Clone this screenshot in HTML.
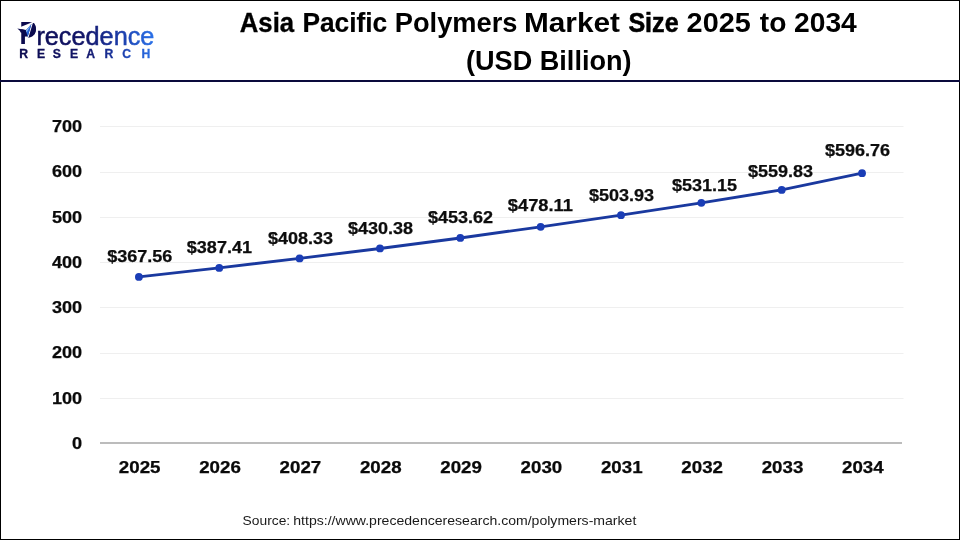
<!DOCTYPE html>
<html lang="en"><head><meta charset="utf-8"><title>Asia Pacific Polymers Market Size 2025 to 2034</title>
<style>
html,body{margin:0;padding:0;background:#fff;}
body{width:960px;height:540px;overflow:hidden;position:relative;font-family:"Liberation Sans",sans-serif;}
svg{position:absolute;left:0;top:0;display:block;will-change:transform}
.ax{font:bold 16.3px "Liberation Sans",sans-serif;fill:#0a0a0a;stroke:#0a0a0a;stroke-width:0.25px}
.dl{font:bold 16.3px "Liberation Sans",sans-serif;fill:#0d0d0d;stroke:#0d0d0d;stroke-width:0.25px}
.ttl{font:bold 27px "Liberation Sans",sans-serif;fill:#000}
.src{font:12.9px "Liberation Sans",sans-serif;fill:#1a1a1a}
.lg1{font:25.6px "Liberation Sans",sans-serif}
.lg2{font:bold 12.2px "Liberation Sans",sans-serif}
</style></head><body>
<svg width="960" height="540" viewBox="0 0 960 540">
<defs>
<linearGradient id="g1" gradientUnits="userSpaceOnUse" x1="18" y1="0" x2="154" y2="0">
<stop offset="0" stop-color="#0b0a4e"/><stop offset="0.5" stop-color="#13166a"/><stop offset="0.75" stop-color="#1b3ba8"/><stop offset="1" stop-color="#2a72ea"/>
</linearGradient>
</defs>
<rect x="0" y="0" width="960" height="540" fill="#ffffff"/>
<rect x="0.5" y="0.5" width="959" height="539" fill="none" stroke="#000" stroke-width="1"/>
<rect x="0" y="80" width="960" height="2" fill="#0a0a3c"/>
<!-- logo -->
<g id="logo">
<text x="19.5" y="44.1" style="font:bold 30.5px 'Liberation Sans',sans-serif" fill="#0b0a4e" textLength="17.2" lengthAdjust="spacingAndGlyphs">P</text>
<rect x="23.5" y="24.5" width="9.3" height="11.6" fill="#0b0a4e"/>
<path d="M32.6,22.6 C35,23.6 36.1,26.6 36,29.8 C35.8,34.2 32.2,37.5 28,37.7 L27,32 Z" fill="#0b0a4e"/>
<polygon points="16.5,28.0 20.5,27.0 31.6,22.4 33.4,21.3 34.0,22.0 32.8,23.3 28.4,37.7 27.6,37.0 31.4,24.0 25.9,30.2" fill="#ffffff"/>
<polygon points="17.3,28.4 26.2,29.9 25.2,32.5 20.9,32.8 19.6,30.4" fill="#0b0a4e"/>
<polygon points="31.5,23.9 25.9,30.2 27.7,37.0" fill="#2563d8"/>
<polygon points="31.5,23.9 25.9,30.2 26.5,32.4" fill="#8bbcf5"/>
<text x="36.4" y="44.5" class="lg1" fill="url(#g1)" stroke="url(#g1)" stroke-width="0.5" textLength="118" lengthAdjust="spacingAndGlyphs">recedence</text>
<text x="19.3 36.9 52.8 70.0 86.2 104.4 122.3 141.6" y="57.9" class="lg2" fill="url(#g1)" stroke="url(#g1)" stroke-width="0.3">RESEARCH</text>
</g>
<!-- title -->
<text x="239.8" y="31.5" class="ttl" textLength="54.3" lengthAdjust="spacingAndGlyphs" stroke="#000" stroke-width="0.35">Asia</text>
<text x="302.4" y="31.5" class="ttl" textLength="84.8" lengthAdjust="spacingAndGlyphs" stroke="#000" stroke-width="0.2">Pacific</text>
<text x="394.8" y="31.5" class="ttl" textLength="122.6" lengthAdjust="spacingAndGlyphs">Polymers</text>
<text x="524.0" y="31.5" class="ttl" textLength="96.0" lengthAdjust="spacingAndGlyphs">Market</text>
<text x="628.4" y="31.5" class="ttl" textLength="50.2" lengthAdjust="spacingAndGlyphs" stroke="#000" stroke-width="0.55">Size</text>
<text x="686.6" y="31.5" class="ttl" textLength="64.2" lengthAdjust="spacingAndGlyphs">2025</text>
<text x="759.8" y="31.5" class="ttl" textLength="26.6" lengthAdjust="spacingAndGlyphs">to</text>
<text x="794.0" y="31.5" class="ttl" textLength="62.8" lengthAdjust="spacingAndGlyphs">2034</text>
<text x="466.0" y="69.75" class="ttl" textLength="165.6" lengthAdjust="spacingAndGlyphs">(USD Billion)</text>
<line x1="100.0" x2="903.5" y1="398.50" y2="398.50" stroke="#efefef" stroke-width="1"/>
<line x1="100.0" x2="903.5" y1="353.50" y2="353.50" stroke="#efefef" stroke-width="1"/>
<line x1="100.0" x2="903.5" y1="307.50" y2="307.50" stroke="#efefef" stroke-width="1"/>
<line x1="100.0" x2="903.5" y1="262.50" y2="262.50" stroke="#efefef" stroke-width="1"/>
<line x1="100.0" x2="903.5" y1="217.50" y2="217.50" stroke="#efefef" stroke-width="1"/>
<line x1="100.0" x2="903.5" y1="172.50" y2="172.50" stroke="#efefef" stroke-width="1"/>
<line x1="100.0" x2="903.5" y1="126.50" y2="126.50" stroke="#efefef" stroke-width="1"/>
<line x1="100.0" x2="902.0" y1="443" y2="443" stroke="#bcbcbc" stroke-width="2"/>
<text x="82.1" y="448.90" text-anchor="end" class="ax" textLength="10.1" lengthAdjust="spacingAndGlyphs">0</text>
<text x="82.1" y="403.65" text-anchor="end" class="ax" textLength="30.2" lengthAdjust="spacingAndGlyphs">100</text>
<text x="82.1" y="358.40" text-anchor="end" class="ax" textLength="30.2" lengthAdjust="spacingAndGlyphs">200</text>
<text x="82.1" y="313.15" text-anchor="end" class="ax" textLength="30.2" lengthAdjust="spacingAndGlyphs">300</text>
<text x="82.1" y="267.90" text-anchor="end" class="ax" textLength="30.2" lengthAdjust="spacingAndGlyphs">400</text>
<text x="82.1" y="222.65" text-anchor="end" class="ax" textLength="30.2" lengthAdjust="spacingAndGlyphs">500</text>
<text x="82.1" y="177.40" text-anchor="end" class="ax" textLength="30.2" lengthAdjust="spacingAndGlyphs">600</text>
<text x="82.1" y="132.15" text-anchor="end" class="ax" textLength="30.2" lengthAdjust="spacingAndGlyphs">700</text>
<text x="139.70" y="472.8" text-anchor="middle" class="ax" textLength="41.7" lengthAdjust="spacingAndGlyphs">2025</text>
<text x="220.05" y="472.8" text-anchor="middle" class="ax" textLength="41.7" lengthAdjust="spacingAndGlyphs">2026</text>
<text x="300.40" y="472.8" text-anchor="middle" class="ax" textLength="41.7" lengthAdjust="spacingAndGlyphs">2027</text>
<text x="380.75" y="472.8" text-anchor="middle" class="ax" textLength="41.7" lengthAdjust="spacingAndGlyphs">2028</text>
<text x="461.10" y="472.8" text-anchor="middle" class="ax" textLength="41.7" lengthAdjust="spacingAndGlyphs">2029</text>
<text x="541.45" y="472.8" text-anchor="middle" class="ax" textLength="41.7" lengthAdjust="spacingAndGlyphs">2030</text>
<text x="621.80" y="472.8" text-anchor="middle" class="ax" textLength="41.7" lengthAdjust="spacingAndGlyphs">2031</text>
<text x="702.15" y="472.8" text-anchor="middle" class="ax" textLength="41.7" lengthAdjust="spacingAndGlyphs">2032</text>
<text x="782.50" y="472.8" text-anchor="middle" class="ax" textLength="41.7" lengthAdjust="spacingAndGlyphs">2033</text>
<text x="862.85" y="472.8" text-anchor="middle" class="ax" textLength="41.7" lengthAdjust="spacingAndGlyphs">2034</text>
<polyline points="138.90,276.88 219.25,267.90 299.60,258.43 379.95,248.45 460.30,237.94 540.65,226.86 621.00,215.17 701.35,202.85 781.70,189.88 862.05,173.17" fill="none" stroke="#1a399f" stroke-width="2.9" stroke-linejoin="round" stroke-linecap="round"/>
<circle cx="138.90" cy="276.88" r="3.9" fill="#1a3db6"/>
<circle cx="219.25" cy="267.90" r="3.9" fill="#1a3db6"/>
<circle cx="299.60" cy="258.43" r="3.9" fill="#1a3db6"/>
<circle cx="379.95" cy="248.45" r="3.9" fill="#1a3db6"/>
<circle cx="460.30" cy="237.94" r="3.9" fill="#1a3db6"/>
<circle cx="540.65" cy="226.86" r="3.9" fill="#1a3db6"/>
<circle cx="621.00" cy="215.17" r="3.9" fill="#1a3db6"/>
<circle cx="701.35" cy="202.85" r="3.9" fill="#1a3db6"/>
<circle cx="781.70" cy="189.88" r="3.9" fill="#1a3db6"/>
<circle cx="862.05" cy="173.17" r="3.9" fill="#1a3db6"/>
<text x="139.75" y="261.50" text-anchor="middle" class="dl" textLength="65.1" lengthAdjust="spacingAndGlyphs">$367.56</text>
<text x="219.40" y="252.50" text-anchor="middle" class="dl" textLength="65.1" lengthAdjust="spacingAndGlyphs">$387.41</text>
<text x="300.60" y="243.75" text-anchor="middle" class="dl" textLength="65.1" lengthAdjust="spacingAndGlyphs">$408.33</text>
<text x="380.60" y="233.75" text-anchor="middle" class="dl" textLength="65.1" lengthAdjust="spacingAndGlyphs">$430.38</text>
<text x="460.60" y="222.50" text-anchor="middle" class="dl" textLength="65.1" lengthAdjust="spacingAndGlyphs">$453.62</text>
<text x="540.40" y="211.25" text-anchor="middle" class="dl" textLength="65.1" lengthAdjust="spacingAndGlyphs">$478.11</text>
<text x="621.60" y="200.50" text-anchor="middle" class="dl" textLength="65.1" lengthAdjust="spacingAndGlyphs">$503.93</text>
<text x="704.60" y="190.75" text-anchor="middle" class="dl" textLength="65.1" lengthAdjust="spacingAndGlyphs">$531.15</text>
<text x="780.60" y="176.75" text-anchor="middle" class="dl" textLength="65.1" lengthAdjust="spacingAndGlyphs">$559.83</text>
<text x="857.60" y="155.60" text-anchor="middle" class="dl" textLength="65.1" lengthAdjust="spacingAndGlyphs">$596.76</text>
<text x="242.6" y="525.1" class="src" textLength="47.6" lengthAdjust="spacingAndGlyphs">Source:</text>
<text x="293.3" y="525.1" class="src" textLength="343" lengthAdjust="spacingAndGlyphs">https://www.precedenceresearch.com/polymers-market</text>
</svg>
</body></html>
